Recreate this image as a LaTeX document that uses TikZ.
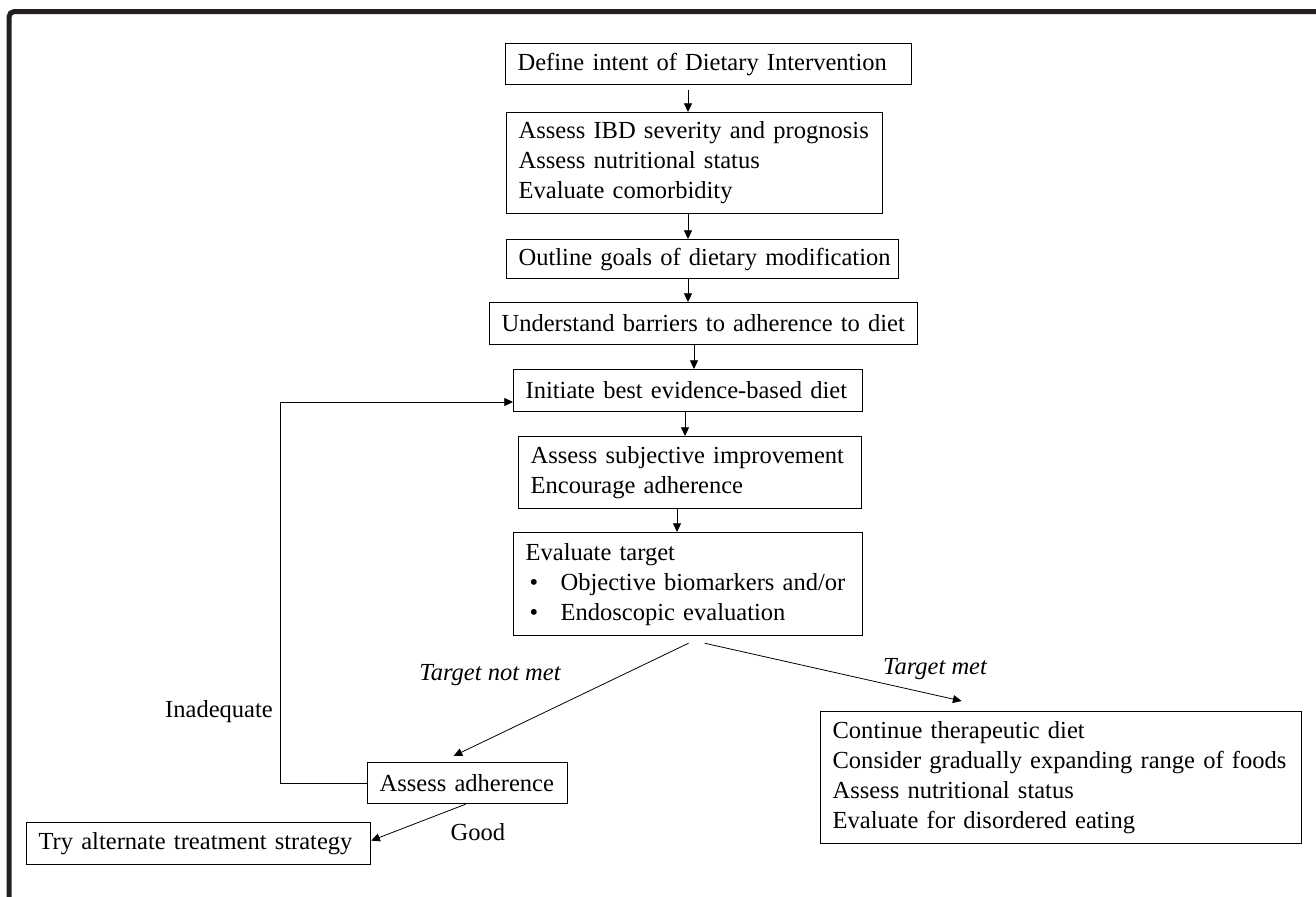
\documentclass[tikz,border=0pt]{standalone}
\usepackage{fontspec}
\setmainfont{Liberation Serif}
\usetikzlibrary{arrows.meta,calc}
\definecolor{framec}{RGB}{35,31,32}
\newcommand\oneline[1]{\mbox{#1}}
\newcommand\bulitem[1]{\mbox{\makebox[26.25pt][l]{\hspace{3pt}•}#1}}
\begin{document}
\begin{tikzpicture}[x=0.75pt,y=-0.75pt,
  font=\fontsize{18.4pt}{22.5pt}\selectfont,
  bx/.style={draw, line width=0.9pt, inner xsep=9pt, inner ysep=0pt, align=left, anchor=north west},
  arr/.style={line width=0.6pt, -{Triangle[length=6.5pt,width=6pt]}},
  lbl/.style={inner sep=0pt}]
\useasboundingbox (0,0) rectangle (1316,896);
\draw[line width=3.75pt, color=framec, rounded corners=4pt] (9,11.5) rectangle (1340,920);

\node[bx, text width=286.5pt, minimum height=30.75pt] (b1) at (505,43) {\oneline{Define intent of Dietary Intervention}};
\node[bx, text width=264pt, minimum height=75.75pt] (b2) at (506,112) {\oneline{Assess IBD severity and prognosis}\\\oneline{Assess nutritional status}\\\oneline{Evaluate comorbidity}};
\node[bx, text width=276pt, minimum height=29.25pt] (b3) at (506,239) {\oneline{Outline goals of dietary modification}};
\node[bx, text width=303pt, minimum height=31.5pt] (b4) at (489,302) {\oneline{Understand barriers to adherence to diet}};
\node[bx, text width=243.75pt, minimum height=31.5pt] (b5) at (513,369) {\oneline{Initiate best evidence-based diet}};
\node[bx, text width=239.25pt, minimum height=54pt] (b6) at (518,436) {\oneline{Assess subjective improvement}\\\oneline{Encourage adherence}};
\node[bx, text width=243.75pt, minimum height=77.25pt] (b7) at (513,532) {\oneline{Evaluate target}\\\bulitem{Objective biomarkers and/or}\\\bulitem{Endoscopic evaluation}};
\node[bx, text width=132pt, minimum height=30.75pt] (b8) at (367,762) {\oneline{Assess adherence}};
\node[bx, text width=240pt, minimum height=31.5pt] (b9) at (26,822) {\oneline{Try alternate treatment strategy}};
\node[bx, text width=342.75pt, minimum height=99pt] (b10) at (820,711) {\oneline{Continue therapeutic diet}\\\oneline{Consider gradually expanding range of foods}\\\oneline{Assess nutritional status}\\\oneline{Evaluate for disordered eating}};

\draw[arr] ($(688,0 |- b1.south)+(0,5)$) -- (688,0 |- b2.north);
\draw[arr] (688,0 |- b2.south) -- (688,0 |- b3.north);
\draw[arr] (688,0 |- b3.south) -- (688,0 |- b4.north);
\draw[arr] (694,0 |- b4.south) -- (694,0 |- b5.north);
\draw[arr] (685,0 |- b5.south) -- (685,0 |- b6.north);
\draw[arr] (677,0 |- b6.south) -- (677,0 |- b7.north);

\coordinate (fb) at (280,402);
\draw[arr] (b8.west) -- (fb |- b8.west) -- (fb) -- (b5.west |- fb);

\draw[arr] ($(b7.south)+(0.5,7)$) -- ($(b8.north)+(-14,-6)$);
\draw[arr] ($(b7.south)+(16.5,7)$) -- ($(b10.north)+(-99.5,-10)$);
\draw[arr] ($(b8.south)+(-2,0)$) -- ($(b9.east)+(0,-3)$);

\node[lbl] (l1) at (219,712) {Inadequate};
\node[lbl] (l2) at (490,675) {\itshape Target not met};
\node[lbl] (l3) at (935,669) {\itshape Target met};
\node[lbl] (l4) at (478,832) {Good};
\end{tikzpicture}
\end{document}
